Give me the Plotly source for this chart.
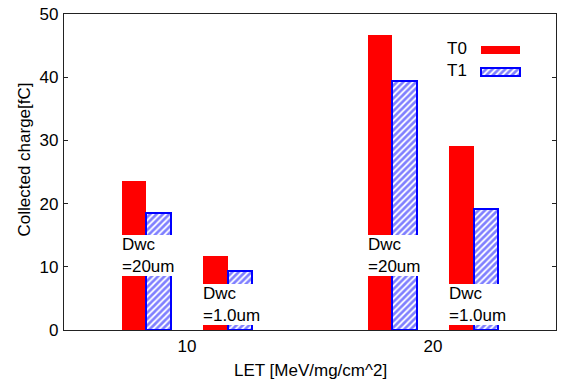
import plotly.graph_objects as go

# ---- data ----
let_values = [10, 10, 20, 20]
dwc_labels = ["Dwc<br>=20um", "Dwc<br>=1.0um", "Dwc<br>=20um", "Dwc<br>=1.0um"]
dwc_kind = ["20um", "1.0um", "20um", "1.0um"]
t0_charge = [23.6, 11.7, 46.6, 29.1]
t1_charge = [18.5, 9.3, 39.4, 19.2]
series_names = ["T0", "T1"]
x_ticks = [10, 20]

# ---- layout parameters ----
pair_offset = {"20um": -1.65, "1.0um": 1.65}
label_y = {"20um": 11.8, "1.0um": 4.1}
bar_w = 1.0
FONT = "Liberation Sans, Arial, Helvetica, sans-serif"
FS = 17
RED = "#ff0000"
BLUE = "#0000ff"
hatch = dict(shape="/", fgcolor=BLUE, bgcolor="white", size=4.5, solidity=0.6)

centers = [l + pair_offset[k] for l, k in zip(let_values, dwc_kind)]
x_t0 = [c - bar_w / 2 for c in centers]
x_t1 = [c + bar_w / 2 for c in centers]

fig = go.Figure()
fig.add_trace(go.Bar(x=x_t0, y=t0_charge, width=bar_w, name=series_names[0],
                     marker=dict(color=RED, line=dict(width=0)), showlegend=False))
fig.add_trace(go.Bar(x=x_t1, y=t1_charge, width=bar_w, name=series_names[1],
                     marker=dict(color="white", line=dict(color=BLUE, width=2),
                                 pattern=hatch),
                     showlegend=False))

# legend samples on hidden overlay axes
fig.add_trace(go.Bar(y=[0.885], x=[0.079], base=[0.847], width=0.025, orientation="h",
                     xaxis="x2", yaxis="y2", marker=dict(color=RED, line=dict(width=0)),
                     showlegend=False, hoverinfo="skip"))
fig.add_trace(go.Bar(y=[0.816], x=[0.079], base=[0.847], width=0.024, orientation="h",
                     xaxis="x2", yaxis="y2",
                     marker=dict(color="white", line=dict(color=BLUE, width=2),
                                 pattern=hatch),
                     showlegend=False, hoverinfo="skip"))

annotations = []
for c, k, txt in zip(centers, dwc_kind, dwc_labels):
    annotations.append(dict(x=c - bar_w, y=label_y[k], xref="x", yref="y", text=txt,
                            showarrow=False, xanchor="left", yanchor="middle", align="left",
                            bgcolor="white", borderpad=0, borderwidth=0,
                            font=dict(family=FONT, size=FS, color="black")))
for name, yy in zip(series_names, [0.8915, 0.82]):
    annotations.append(dict(x=0.8235, y=yy, xref="paper", yref="paper", text=name,
                            showarrow=False, xanchor="right", yanchor="middle",
                            font=dict(family=FONT, size=FS, color="black")))
annotations.append(dict(x=-0.081, y=0.54, xref="paper", yref="paper",
                        text="Collected charge[fC]", textangle=-90, showarrow=False,
                        xanchor="center", yanchor="middle",
                        font=dict(family=FONT, size=FS, color="black")))
annotations.append(dict(x=0.5, y=-0.127, xref="paper", yref="paper",
                        text="LET [MeV/mg/cm^2]", showarrow=False,
                        xanchor="center", yanchor="middle",
                        font=dict(family=FONT, size=FS, color="black")))

fig.update_layout(
    width=562, height=390,
    margin=dict(l=64, r=5, t=10, b=60),
    paper_bgcolor="white", plot_bgcolor="white",
    barmode="overlay", bargap=0,
    font=dict(family=FONT, size=FS, color="black"),
    xaxis=dict(range=[5, 25], tickvals=x_ticks, ticks="", showgrid=False, zeroline=False,
               showline=True, linecolor="#222", linewidth=1.3, mirror=True,
               tickfont=dict(family=FONT, size=FS)),
    yaxis=dict(range=[0, 50], dtick=10, ticks="inside", ticklen=4, tickcolor="#222",
               showgrid=False, zeroline=False, showline=True, linecolor="#222",
               linewidth=1.3, mirror="allticks", ticklabelstandoff=1,
               tickfont=dict(family=FONT, size=FS)),
    xaxis2=dict(range=[0, 1], overlaying="x", visible=False),
    yaxis2=dict(range=[0, 1], overlaying="y", visible=False),
    annotations=annotations,
    showlegend=False,
)

fig.write_html("out.html")
